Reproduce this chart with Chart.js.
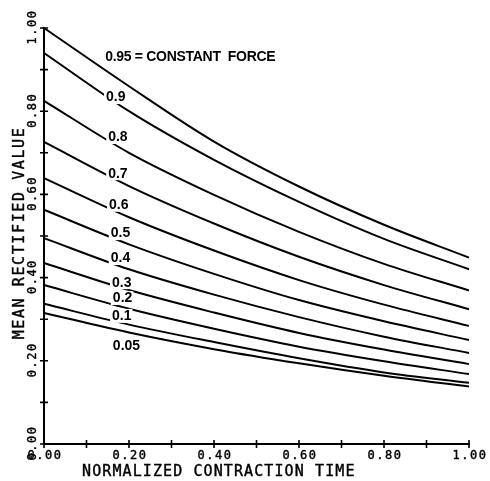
<!DOCTYPE html>
<html>
<head>
<meta charset="utf-8">
<title>Mean rectified value vs normalized contraction time</title>
<script src="https://cdn.jsdelivr.net/npm/chart.js@4.4.1/dist/chart.umd.min.js"></script>
<style>
  html, body { margin: 0; padding: 0; background: #fff; }
  #wrap { position: relative; width: 490px; height: 481px; }
</style>
</head>
<body>
<div id="wrap"><canvas id="mrv-chart"></canvas></div>
<script>
(function () {
  'use strict';

  // ---- Data ----
  var TIME = [0, 0.2, 0.4, 0.6, 0.8, 1.0];

  var MRV_095 = [1.000, 0.860, 0.727, 0.619, 0.527, 0.448];
  var MRV_090 = [0.940, 0.800, 0.683, 0.582, 0.493, 0.420];
  var MRV_080 = [0.825, 0.700, 0.599, 0.510, 0.433, 0.369];
  var MRV_070 = [0.726, 0.620, 0.530, 0.450, 0.382, 0.324];
  var MRV_060 = [0.639, 0.545, 0.465, 0.394, 0.335, 0.284];
  var MRV_050 = [0.563, 0.480, 0.409, 0.346, 0.295, 0.250];
  var MRV_040 = [0.495, 0.420, 0.359, 0.305, 0.258, 0.219];
  var MRV_030 = [0.435, 0.370, 0.316, 0.267, 0.227, 0.192];
  var MRV_020 = [0.382, 0.325, 0.277, 0.234, 0.199, 0.168];
  var MRV_010 = [0.337, 0.287, 0.245, 0.206, 0.172, 0.147];
  var MRV_005 = [0.315, 0.268, 0.228, 0.194, 0.164, 0.138];

  var SERIES = [MRV_095, MRV_090, MRV_080, MRV_070, MRV_060, MRV_050,
                MRV_040, MRV_030, MRV_020, MRV_010, MRV_005];
  var CURVE_LABELS = ['0.95 = CONSTANT  FORCE', '0.9', '0.8', '0.7', '0.6', '0.5',
                      '0.4', '0.3', '0.2', '0.1', '0.05'];

  var TICK_VALUES = [0, 0.1, 0.2, 0.3, 0.4, 0.5, 0.6, 0.7, 0.8, 0.9, 1.0];
  var TICK_LABELS = ['0.00', '', '0.20', '', '0.40', '', '0.60', '', '0.80', '', '1.00'];

  var X_TITLE = 'NORMALIZED CONTRACTION TIME';
  var Y_TITLE = 'MEAN RECTIFIED VALUE';

  // where each curve label sits, in data units (left edge, vertical centre)
  var LABEL_AT = [
    [0.144, 0.930], [0.146, 0.834], [0.151, 0.738], [0.151, 0.651],
    [0.153, 0.575], [0.157, 0.507], [0.157, 0.447], [0.160, 0.389],
    [0.162, 0.351], [0.160, 0.308], [0.162, 0.236]
  ];

  var PLOT_FONT = '"DejaVu Sans Mono", monospace';
  var LABEL_FONT = 'bold 14px "Liberation Sans", Arial, sans-serif';

  // ---- Datasets ----
  var datasets = SERIES.map(function (vals, i) {
    return {
      label: CURVE_LABELS[i],
      data: vals.map(function (v, j) { return { x: TIME[j], y: v }; }),
      borderColor: '#000',
      borderWidth: 2,
      pointRadius: 0,
      fill: false,
      cubicInterpolationMode: 'monotone',
      clip: 4
    };
  });

  // ---- Plotter style axes: crossing ticks, rotated y labels, titles ----
  var plotterAxes = {
    id: 'plotterAxes',
    afterDatasetsDraw: function (chart) {
      var ctx = chart.ctx;
      var xs = chart.scales.x, ys = chart.scales.y;
      ctx.save();
      ctx.font = LABEL_FONT;
      ctx.textAlign = 'left';
      ctx.textBaseline = 'middle';
      CURVE_LABELS.forEach(function (t, i) {
        var px = xs.getPixelForValue(LABEL_AT[i][0]);
        var py = ys.getPixelForValue(LABEL_AT[i][1]);
        var w = ctx.measureText(t).width;
        ctx.fillStyle = '#fff';
        ctx.fillRect(px - 2, py - 7, w + 3, 14);
        ctx.fillStyle = '#000';
        if (i === 0) ctx.letterSpacing = '-0.3px';
        ctx.fillText(t, px, py + 0.5);
        ctx.letterSpacing = '0px';
      });
      ctx.restore();
    },
    afterDraw: function (chart) {
      var ctx = chart.ctx;
      var area = chart.chartArea;
      var xs = chart.scales.x, ys = chart.scales.y;

      ctx.save();
      ctx.strokeStyle = '#000';
      ctx.fillStyle = '#000';
      ctx.lineWidth = 1.6;

      // tick marks crossing both axes
      TICK_VALUES.forEach(function (v) {
        var px = xs.getPixelForValue(v);
        var py = ys.getPixelForValue(v);
        ctx.beginPath();
        ctx.moveTo(px, area.bottom - 4);
        ctx.lineTo(px, area.bottom + 4);
        ctx.moveTo(area.left - 4, py);
        ctx.lineTo(area.left + 4, py);
        ctx.stroke();
      });

      // tick labels (slight stroke to mimic a plotter pen)
      ctx.font = '12px ' + PLOT_FONT;
      ctx.letterSpacing = '1.5px';
      ctx.textAlign = 'center';
      ctx.textBaseline = 'middle';
      ctx.lineWidth = 0.4;
      TICK_VALUES.forEach(function (v, i) {
        var t = TICK_LABELS[i];
        if (!t) return;
        var px = xs.getPixelForValue(v) + 1;
        ctx.fillText(t, px, area.bottom + 12);
        ctx.strokeText(t, px, area.bottom + 12);
        ctx.save();
        ctx.translate(area.left - 11, ys.getPixelForValue(v));
        ctx.rotate(-Math.PI / 2);
        ctx.fillText(t, 1, 0);
        ctx.strokeText(t, 1, 0);
        ctx.restore();
      });

      // axis titles
      ctx.font = '15px ' + PLOT_FONT;
      ctx.letterSpacing = '1.1px';
      ctx.textAlign = 'left';
      ctx.fillText(X_TITLE, area.left + 38, area.bottom + 28);
      ctx.strokeText(X_TITLE, area.left + 38, area.bottom + 28);

      ctx.letterSpacing = '1.6px';
      ctx.textAlign = 'center';
      ctx.save();
      ctx.translate(area.left - 24, (area.top + area.bottom) / 2 - 3);
      ctx.rotate(-Math.PI / 2);
      ctx.fillText(Y_TITLE, 0, 0);
      ctx.strokeText(Y_TITLE, 0, 0);
      ctx.restore();

      ctx.restore();
    }
  };

  var ctx = document.getElementById('mrv-chart').getContext('2d');

  new Chart(ctx, {
    type: 'line',
    data: { datasets: datasets },
    options: {
      responsive: true,
      maintainAspectRatio: false,
      animation: false,
      events: [],
      layout: { padding: { left: 0, right: 21, top: 28, bottom: 0 } },
      plugins: {
        legend: { display: false },
        tooltip: { enabled: false },
        title: { display: false }
      },
      scales: {
        x: {
          type: 'linear',
          min: 0,
          max: 1,
          ticks: { display: false },
          grid: { display: false },
          border: { display: true, color: '#000', width: 2 },
          afterFit: function (scale) { scale.height = 37; }
        },
        y: {
          type: 'linear',
          min: 0,
          max: 1,
          ticks: { display: false },
          grid: { display: false },
          border: { display: true, color: '#000', width: 2 },
          afterFit: function (scale) { scale.width = 44; }
        }
      }
    },
    plugins: [plotterAxes]
  });

})();
</script>
</body>
</html>
